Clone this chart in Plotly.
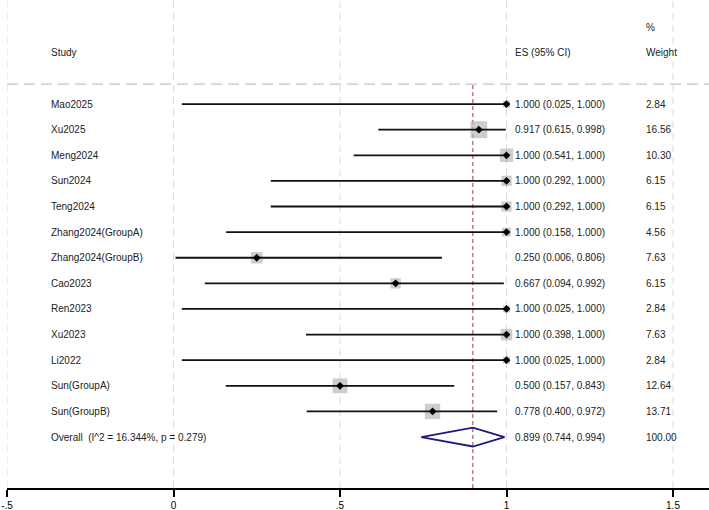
import plotly.graph_objects as go

studies = ["Mao2025", "Xu2025", "Meng2024", "Sun2024", "Teng2024",
           "Zhang2024(GroupA)", "Zhang2024(GroupB)", "Cao2023", "Ren2023",
           "Xu2023", "Li2022", "Sun(GroupA)", "Sun(GroupB)"]
es = [1.000, 0.917, 1.000, 1.000, 1.000, 1.000, 0.250, 0.667, 1.000, 1.000, 1.000, 0.500, 0.778]
lower = [0.025, 0.615, 0.541, 0.292, 0.292, 0.158, 0.006, 0.094, 0.025, 0.398, 0.025, 0.157, 0.400]
upper = [1.000, 0.998, 1.000, 1.000, 1.000, 1.000, 0.806, 0.992, 1.000, 1.000, 1.000, 0.843, 0.972]
weight = [2.84, 16.56, 10.30, 6.15, 6.15, 4.56, 7.63, 6.15, 2.84, 7.63, 2.84, 12.64, 13.71]

overall_label = "Overall  (I^2 = 16.344%, p = 0.279)"
overall_es, overall_lo, overall_hi, overall_w = 0.899, 0.744, 0.994, 100.00

tick_vals = [-0.5, 0, 0.5, 1, 1.5]
tick_text = ["-.5", "0", ".5", "1", "1.5"]

FONT = "Liberation Sans, Arial, sans-serif"
TXT = "#222222"

n = len(studies)
ys = [-i for i in range(n)]
y_overall = -n

fig = go.Figure()

# weight boxes
fig.add_trace(go.Scatter(
    x=es, y=ys, mode="markers",
    marker=dict(symbol="square", size=[4.15 * (w ** 0.5) for w in weight],
                color="#b8b8b8", line=dict(width=0)),
    hoverinfo="skip", showlegend=False))

# CI lines
cx, cy = [], []
for lo, hi, y in zip(lower, upper, ys):
    cx += [lo, hi, None]
    cy += [y, y, None]
fig.add_trace(go.Scatter(x=cx, y=cy, mode="lines",
                         line=dict(color="#111111", width=1.8),
                         hoverinfo="skip", showlegend=False))

# point estimates
fig.add_trace(go.Scatter(x=es, y=ys, mode="markers",
                         marker=dict(symbol="diamond", size=6, color="#000000"),
                         hoverinfo="skip", showlegend=False))

# overall diamond
h = 0.37
fig.add_trace(go.Scatter(
    x=[overall_lo, overall_es, overall_hi, overall_es, overall_lo],
    y=[y_overall, y_overall + h, y_overall, y_overall - h, y_overall],
    mode="lines", line=dict(color="#1c1c7a", width=1.8),
    hoverinfo="skip", showlegend=False))

y_top = 4.0625
y_bot = -14.99
y_sep = 0.78

shapes = []
for tv in tick_vals:
    shapes.append(dict(type="line", xref="x", yref="y", x0=tv, x1=tv, y0=y_bot, y1=y_top,
                       line=dict(color="#d8d8d8", width=1, dash="7px,5px"), layer="below"))
shapes.append(dict(type="line", xref="paper", yref="y", x0=0, x1=1, y0=y_sep, y1=y_sep,
                   line=dict(color="#c4c4c4", width=1.4, dash="11px,6px"), layer="below"))
shapes.append(dict(type="line", xref="x", yref="y", x0=overall_es, x1=overall_es,
                   y0=y_bot, y1=y_sep,
                   line=dict(color="#9c3a48", width=1, dash="4px,3px"), layer="below"))

ann = []
def add_text(x, y, t):
    ann.append(dict(x=x, y=y, xref="x", yref="y", text=t, showarrow=False,
                    xanchor="left", yanchor="middle",
                    font=dict(family=FONT, size=10, color=TXT)))

x_study = -0.5 + (49 - 7) / 333.0
x_es = -0.5 + (513 - 7) / 333.0
x_w = -0.5 + (644 - 7) / 333.0

add_text(x_study, 2.03, "Study")
add_text(x_es, 2.03, "ES (95% CI)")
add_text(x_w, 3.0, "%")
add_text(x_w, 2.03, "Weight")

for s, e, lo, hi, w, y in zip(studies, es, lower, upper, weight, ys):
    add_text(x_study, y, s)
    add_text(x_es, y, f"{e:.3f} ({lo:.3f}, {hi:.3f})")
    add_text(x_w, y, f"{w:.2f}")

add_text(x_study, y_overall, overall_label)
add_text(x_es, y_overall, f"{overall_es:.3f} ({overall_lo:.3f}, {overall_hi:.3f})")
add_text(x_w, y_overall, f"{overall_w:.2f}")

fig.update_layout(
    width=709, height=510,
    margin=dict(l=7, r=0, t=0, b=22),
    plot_bgcolor="white", paper_bgcolor="white",
    shapes=shapes, annotations=ann,
    font=dict(family=FONT, size=10, color="#000000"),
    xaxis=dict(range=[-0.5, -0.5 + 702 / 333.0], tickvals=tick_vals, ticktext=tick_text,
               showgrid=False, zeroline=False, showline=True, linecolor="#000000",
               linewidth=1.5, ticks="outside", ticklen=7, tickwidth=1.5, tickcolor="#000000",
               tickfont=dict(family=FONT, size=10, color="#000000")),
    yaxis=dict(range=[y_bot, y_top], showgrid=False, zeroline=False, showline=False,
               showticklabels=False, ticks=""),
)

fig.write_html("out.html")
